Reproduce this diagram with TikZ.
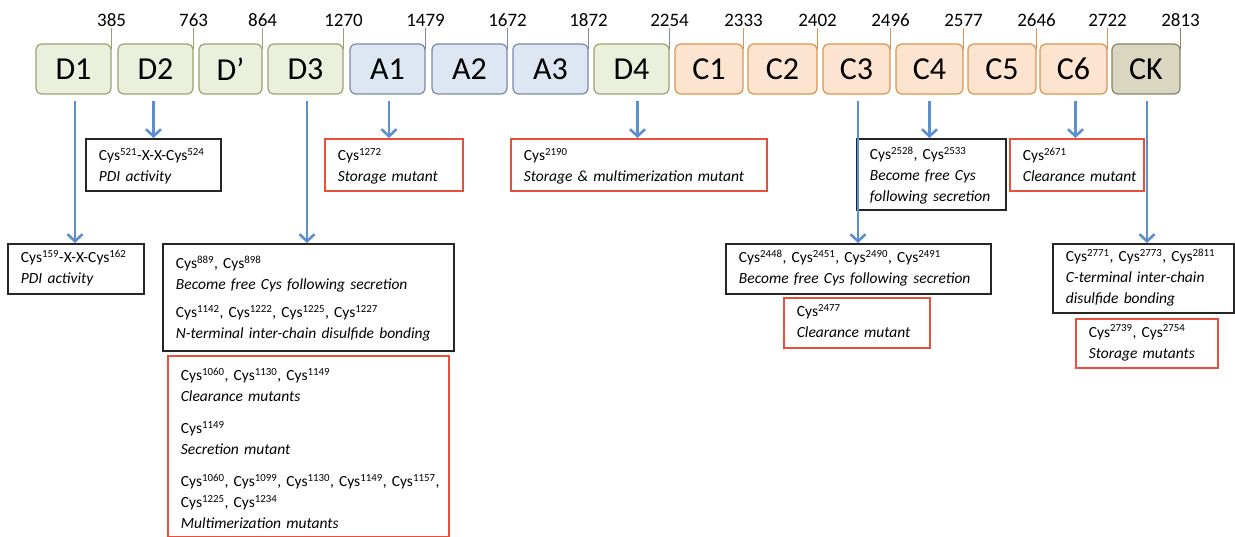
\documentclass[tikz,border=0pt]{standalone}
\usepackage{fontspec}
\setmainfont{Carlito}
\usetikzlibrary{arrows.meta}
\definecolor{dfill}{HTML}{EBF0DC}
\definecolor{ddraw}{HTML}{9AA270}
\definecolor{afill}{HTML}{DDE6F3}
\definecolor{adraw}{HTML}{7D88A8}
\definecolor{cfill}{HTML}{FCE4D0}
\definecolor{cdraw}{HTML}{E0924F}
\definecolor{kfill}{HTML}{DAD6C0}
\definecolor{kdraw}{HTML}{85836C}
\definecolor{arrblue}{HTML}{5B8FD0}
\definecolor{redbox}{HTML}{E8503A}
\newcommand{\boxlines}[1]{\begin{tabular}{@{}l@{}}#1\end{tabular}}
\begin{document}
\begin{tikzpicture}[x=1pt,y=-1pt,
  dom/.style={draw, rounded corners=6pt, line width=1.2pt, minimum height=50pt, inner sep=0pt, font=\fontsize{32}{36}\selectfont},
  dD/.style={dom, fill=dfill, draw=ddraw},
  dA/.style={dom, fill=afill, draw=adraw},
  dC/.style={dom, fill=cfill, draw=cdraw},
  dK/.style={dom, fill=kfill, draw=kdraw},
  tick/.style={line width=1.2pt},
  ticklab/.style={above, inner sep=1.5pt, font=\fontsize{19}{21}\selectfont, text=black},
  bx/.style={anchor=north west, inner xsep=13pt, inner ysep=2pt, align=left, font=\fontsize{15.5}{21}\selectfont},
  blackbox/.style={bx, draw=black!85, line width=1.9pt},
  redbx/.style={bx, draw=redbox, line width=1.8pt},
  arr/.style={draw=arrblue, line width=2.4pt, -{Straight Barb[length=7pt,width=15pt,line width=2.6pt]}}
]
\useasboundingbox (0,0) rectangle (1235,537);

% domains
\node[dD, minimum width=75pt] (D1) at (73.5,69) {D1};
\node[dD, minimum width=75pt] (D2) at (155.5,69) {D2};
\node[dD, minimum width=63pt] (Dp) at (230.5,69) {D’};
\node[dD, minimum width=75pt] (D3) at (305.5,69) {D3};
\node[dA, minimum width=75pt] (A1) at (387.5,69) {A1};
\node[dA, minimum width=75pt] (A2) at (469.5,69) {A2};
\node[dA, minimum width=75pt] (A3) at (550.5,69) {A3};
\node[dD, minimum width=75pt] (D4) at (631.5,69) {D4};
\node[dC, minimum width=68pt] (C1) at (709,69) {C1};
\node[dC, minimum width=69pt] (C2) at (782.5,69) {C2};
\node[dC, minimum width=67pt] (C3) at (856.5,69) {C3};
\node[dC, minimum width=67pt] (C4) at (929.5,69) {C4};
\node[dC, minimum width=68pt] (C5) at (1002,69) {C5};
\node[dC, minimum width=67pt] (C6) at (1073.5,69) {C6};
\node[dK, minimum width=68pt] (CK) at (1146,69) {CK};

% ticks
\draw[tick, draw=ddraw] ([yshift=-6pt]D1.north east) -- ++(0,-21) node[ticklab]{385};
\draw[tick, draw=ddraw] ([yshift=-6pt]D2.north east) -- ++(0,-21) node[ticklab]{763};
\draw[tick, draw=ddraw] ([yshift=-6pt]Dp.north east) -- ++(0,-21) node[ticklab]{864};
\draw[tick, draw=ddraw] ([yshift=-6pt]D3.north east) -- ++(0,-21) node[ticklab]{1270};
\draw[tick, draw=adraw] ([yshift=-6pt]A1.north east) -- ++(0,-21) node[ticklab]{1479};
\draw[tick, draw=adraw] ([yshift=-6pt]A2.north east) -- ++(0,-21) node[ticklab]{1672};
\draw[tick, draw=adraw] ([yshift=-6pt]A3.north east) -- ++(0,-21) node[ticklab]{1872};
\draw[tick, draw=adraw] ([yshift=-6pt]D4.north east) -- ++(0,-21) node[ticklab]{2254};
\draw[tick, draw=cdraw] ([yshift=-6pt]C1.north east) -- ++(0,-21) node[ticklab]{2333};
\draw[tick, draw=cdraw] ([yshift=-6pt]C2.north east) -- ++(0,-21) node[ticklab]{2402};
\draw[tick, draw=cdraw] ([yshift=-6pt]C3.north east) -- ++(0,-21) node[ticklab]{2496};
\draw[tick, draw=cdraw] ([yshift=-6pt]C4.north east) -- ++(0,-21) node[ticklab]{2577};
\draw[tick, draw=cdraw] ([yshift=-6pt]C5.north east) -- ++(0,-21) node[ticklab]{2646};
\draw[tick, draw=cdraw] ([yshift=-6pt]C6.north east) -- ++(0,-21) node[ticklab]{2722};
\draw[tick, draw=kdraw] ([yshift=-6pt]CK.north east) -- ++(0,-21) node[ticklab]{2813};

% annotation boxes
\node[blackbox, text width=110pt, minimum height=50pt] (b1) at (7,243)
  {\boxlines{Cys\textsuperscript{159}-X-X-Cys\textsuperscript{162}\\\textit{PDI activity}}};
\node[blackbox, text width=109pt, minimum height=52pt] (b2) at (85,138)
  {\boxlines{\rule{0pt}{19pt}Cys\textsuperscript{521}-X-X-Cys\textsuperscript{524}\\\textit{PDI activity}}};
\node[blackbox, text width=265pt, minimum height=107pt] (b3) at (162,243)
  {\boxlines{\rule{0pt}{18pt}Cys\textsuperscript{889}, Cys\textsuperscript{898}\\\textit{Become free Cys following secretion}\\[7pt]
   Cys\textsuperscript{1142}, Cys\textsuperscript{1222}, Cys\textsuperscript{1225}, Cys\textsuperscript{1227}\\\textit{N-terminal inter-chain disulfide bonding}}};
\node[redbx, text width=255pt, minimum height=181pt] (b3r) at (167,355)
  {\boxlines{\rule{0pt}{22.5pt}Cys\textsuperscript{1060}, Cys\textsuperscript{1130}, Cys\textsuperscript{1149}\\\textit{Clearance mutants}\\[11pt]
   Cys\textsuperscript{1149}\\\textit{Secretion mutant}\\[11pt]
   Cys\textsuperscript{1060}, Cys\textsuperscript{1099}, Cys\textsuperscript{1130}, Cys\textsuperscript{1149}, Cys\textsuperscript{1157},\\
   Cys\textsuperscript{1225}, Cys\textsuperscript{1234}\\\textit{Multimerization mutants}}};
\node[redbx, text width=112pt, minimum height=52pt] (b4) at (324,138)
  {\boxlines{\rule{0pt}{19pt}Cys\textsuperscript{1272}\\\textit{Storage mutant}}};
\node[redbx, text width=230pt, minimum height=52pt] (b5) at (510,138)
  {\boxlines{\rule{0pt}{19pt}Cys\textsuperscript{2190}\\\textit{Storage \& multimerization mutant}}};
\node[blackbox, text width=239pt, minimum height=50pt] (b6) at (725,243)
  {\boxlines{Cys\textsuperscript{2448}, Cys\textsuperscript{2451}, Cys\textsuperscript{2490}, Cys\textsuperscript{2491}\\\textit{Become free Cys following secretion}}};
\node[redbx, text width=120pt, minimum height=50pt] (b6r) at (783,297)
  {\boxlines{Cys\textsuperscript{2477}\\\textit{Clearance mutant}}};
\node[blackbox, text width=123pt, minimum height=71pt] (b7) at (856,138)
  {\boxlines{\rule{0pt}{18pt}Cys\textsuperscript{2528}, Cys\textsuperscript{2533}\\\textit{Become free Cys}\\\textit{following secretion}}};
\node[redbx, text width=108pt, minimum height=52pt] (b8) at (1009,138)
  {\boxlines{\rule{0pt}{19pt}Cys\textsuperscript{2671}\\\textit{Clearance mutant}}};
\node[blackbox, text width=155pt, minimum height=69pt] (b9) at (1052,243)
  {\boxlines{Cys\textsuperscript{2771}, Cys\textsuperscript{2773}, Cys\textsuperscript{2811}\\\textit{C-terminal inter-chain}\\\textit{disulfide bonding}}};
\node[redbx, text width=116pt, minimum height=49pt] (b9r) at (1075,318)
  {\boxlines{Cys\textsuperscript{2739}, Cys\textsuperscript{2754}\\\textit{Storage mutants}}};

% arrows
\draw[arr] ([xshift=1.5pt,yshift=-6pt]D1.south) -- ([xshift=1.5pt]D1.south |- b1.north);
\draw[arr] ([xshift=-2pt,yshift=-6pt]D2.south) -- ([xshift=-2pt]D2.south |- b2.north);
\draw[arr] ([xshift=1.5pt,yshift=-6pt]D3.south) -- ([xshift=1.5pt]D3.south |- b3.north);
\draw[arr] ([xshift=1.5pt,yshift=-6pt]A1.south) -- ([xshift=1.5pt]A1.south |- b4.north);
\draw[arr] ([xshift=6pt,yshift=-6pt]D4.south) -- ([xshift=6pt]D4.south |- b5.north);
\draw[arr] ([xshift=1.5pt,yshift=-6pt]C3.south) -- ([xshift=1.5pt]C3.south |- b6.north);
\draw[arr] ([yshift=-6pt]C4.south) -- (C4.south |- b7.north);
\draw[arr] ([xshift=2pt,yshift=-6pt]C6.south) -- ([xshift=2pt]C6.south |- b8.north);
\draw[arr] ([xshift=1pt,yshift=-6pt]CK.south) -- ([xshift=1pt]CK.south |- b9.north);
\end{tikzpicture}
\end{document}
